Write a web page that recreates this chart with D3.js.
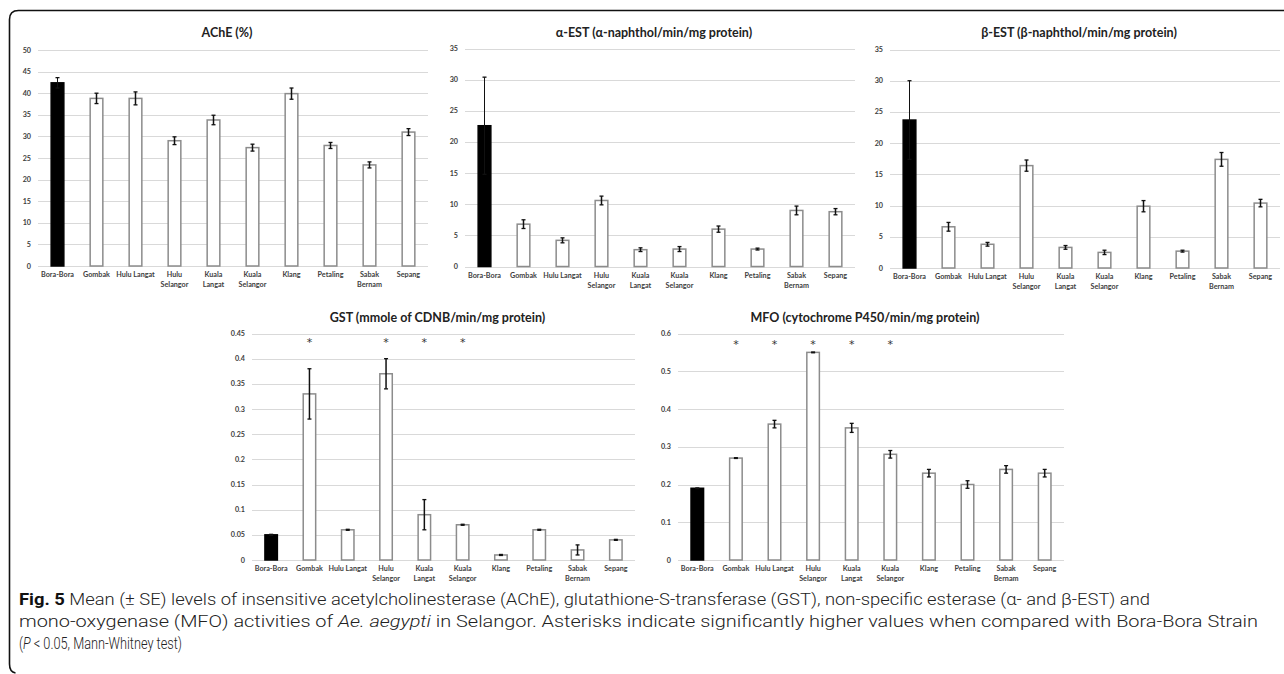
<!DOCTYPE html>
<html><head><meta charset="utf-8">
<script src="https://cdn.jsdelivr.net/npm/d3@7"></script>
<style>
html,body{margin:0;padding:0;background:#fff;}
svg{display:block;}
</style></head>
<body>
<svg id="chart" width="1284" height="674"></svg>
<script>
// ---------- DATA ----------
const categories = ["Bora-Bora","Gombak","Hulu Langat","Hulu Selangor","Kuala Langat","Kuala Selangor","Klang","Petaling","Sabak Bernam","Sepang"];
const categoryLabels = ["Bora-Bora","Gombak","Hulu Langat","Hulu\nSelangor","Kuala\nLangat","Kuala\nSelangor","Klang","Petaling","Sabak\nBernam","Sepang"];

const acheValues = [42.4, 38.8, 38.8, 29.0, 33.8, 27.4, 39.9, 27.9, 23.4, 31.0];
const acheErrors = [1.2, 1.2, 1.5, 0.9, 1.1, 0.8, 1.3, 0.7, 0.7, 0.8];
const acheTicks = [0,5,10,15,20,25,30,35,40,45,50];

const alphaValues = [22.6, 6.8, 4.2, 10.6, 2.7, 2.8, 6.0, 2.8, 9.0, 8.8];
const alphaErrors = [7.8, 0.7, 0.4, 0.7, 0.3, 0.4, 0.5, 0.15, 0.7, 0.5];
const alphaTicks = [0,5,10,15,20,25,30,35];

const betaValues = [23.7, 6.6, 3.8, 16.4, 3.3, 2.5, 9.9, 2.7, 17.4, 10.4];
const betaErrors = [6.3, 0.7, 0.3, 0.9, 0.3, 0.35, 0.9, 0.15, 1.1, 0.6];
const betaTicks = [0,5,10,15,20,25,30,35];

const gstValues = [0.05, 0.33, 0.06, 0.37, 0.09, 0.07, 0.01, 0.06, 0.02, 0.04];
const gstErrors = [0.001, 0.05, 0.001, 0.03, 0.03, 0.001, 0.001, 0.001, 0.01, 0.001];
const gstTicks = [0,0.05,0.1,0.15,0.2,0.25,0.3,0.35,0.4,0.45];
const gstTickLabels = ["0","0.05","0.1","0.15","0.2","0.25","0.3","0.35","0.4","0.45"];
const gstSignificant = ["Gombak","Hulu Selangor","Kuala Langat","Kuala Selangor"];

const mfoValues = [0.19, 0.27, 0.36, 0.55, 0.35, 0.28, 0.23, 0.20, 0.24, 0.23];
const mfoErrors = [0.001, 0.001, 0.01, 0.001, 0.012, 0.01, 0.01, 0.01, 0.01, 0.01];
const mfoTicks = [0,0.1,0.2,0.3,0.4,0.5,0.6];
const mfoTickLabels = ["0","0.1","0.2","0.3","0.4","0.5","0.6"];
const mfoSignificant = ["Gombak","Hulu Langat","Hulu Selangor","Kuala Langat","Kuala Selangor"];

const titles = [
  "AChE (%)",
  "α-EST (α-naphthol/min/mg protein)",
  "β-EST (β-naphthol/min/mg protein)",
  "GST (mmole of CDNB/min/mg protein)",
  "MFO (cytochrome P450/min/mg protein)"
];

// ---------- LAYOUT ----------
const panels = [
  {title:titles[0], values:acheValues, errors:acheErrors, ticks:acheTicks, tickLabels:acheTicks.map(String), sig:[],
   x0:38, x1:428, yTop:50, yBot:266, max:50, titleY:33, starY:0},
  {title:titles[1], values:alphaValues, errors:alphaErrors, ticks:alphaTicks, tickLabels:alphaTicks.map(String), sig:[],
   x0:465, x1:855, yTop:48.5, yBot:266.5, max:35, titleY:33, starY:0},
  {title:titles[2], values:betaValues, errors:betaErrors, ticks:betaTicks, tickLabels:betaTicks.map(String), sig:[],
   x0:890, x1:1280, yTop:49.5, yBot:268, max:35, titleY:33, starY:0},
  {title:titles[3], values:gstValues, errors:gstErrors, ticks:gstTicks, tickLabels:gstTickLabels, sig:gstSignificant,
   x0:252, x1:635, yTop:333.5, yBot:560, max:0.45, titleY:318, starY:346},
  {title:titles[4], values:mfoValues, errors:mfoErrors, ticks:mfoTicks, tickLabels:mfoTickLabels, sig:mfoSignificant,
   x0:678, x1:1064, yTop:333.5, yBot:560, max:0.6, titleY:318, starY:348}
];

const svg = d3.select("#chart");
const FONT = "Lato, 'Open Sans', sans-serif";

// frame
const r = 9;
svg.append("path")
  .attr("d", `M1284,10.5 L${9.5+r},10.5 Q9.5,10.5 9.5,${10.5+r} L9.5,${664} Q9.5,672 ${9.5+6},673`)
  .attr("fill","none").attr("stroke","#111").attr("stroke-width",1.6);

panels.forEach(p => {
  const g = svg.append("g");
  const x = d3.scaleBand().domain(categories).range([p.x0, p.x1]).paddingInner(0.675).paddingOuter(0.3375);
  const y = d3.scaleLinear().domain([0, p.max]).range([p.yBot, p.yTop]);

  // gridlines
  g.selectAll("line.grid").data(p.ticks).join("line")
    .attr("x1", p.x0).attr("x2", p.x1)
    .attr("y1", d => Math.round(y(d))+0.5).attr("y2", d => Math.round(y(d))+0.5)
    .attr("stroke", "#d9d9d9").attr("stroke-width", 1);

  // y tick labels
  g.selectAll("text.ytick").data(p.ticks).join("text")
    .attr("x", p.x0 - 7).attr("y", d => y(d)).attr("dy","0.35em")
    .attr("text-anchor","end")
    .attr("font-family", FONT).attr("font-size", 7.2).attr("font-weight", 700).attr("fill","#404040")
    .text((d,i) => p.tickLabels[i]);

  // title
  g.append("text")
    .attr("x", (p.x0 + p.x1)/2 - 6).attr("y", p.titleY).attr("dy","0.35em")
    .attr("text-anchor","middle")
    .attr("font-family", FONT).attr("font-size", 12.5).attr("font-weight", 700).attr("fill","#222")
    .text(p.title);

  // bars
  const bw = x.bandwidth();
  g.selectAll("rect.bar").data(categories).join("rect")
    .attr("x", d => x(d)).attr("width", bw)
    .attr("y", (d,i) => y(p.values[i])).attr("height", (d,i) => y(0) - y(p.values[i]))
    .attr("fill", (d,i) => i === 0 ? "#000" : "#fff")
    .attr("stroke", (d,i) => i === 0 ? "#000" : "#8c8c8c")
    .attr("stroke-width", 1.5);

  // error bars
  const eb = g.selectAll("g.err").data(categories).join("g");
  eb.append("line")
    .attr("x1", d => x(d) + bw/2).attr("x2", d => x(d) + bw/2)
    .attr("y1", (d,i) => y(p.values[i] + p.errors[i])).attr("y2", (d,i) => y(p.values[i] - p.errors[i]))
    .attr("stroke", "#111").attr("stroke-width", (d,i) => i === 0 ? 1 : 1.5);
  [1,-1].forEach(s => {
    eb.append("line")
      .attr("x1", d => x(d) + bw/2 - 2).attr("x2", d => x(d) + bw/2 + 2)
      .attr("y1", (d,i) => y(p.values[i] + s*p.errors[i])).attr("y2", (d,i) => y(p.values[i] + s*p.errors[i]))
      .attr("stroke", "#111").attr("stroke-width", 1.3);
  });

  // category labels
  const lab = g.selectAll("text.xcat").data(categories).join("text")
    .attr("text-anchor","middle")
    .attr("font-family", FONT).attr("font-size", 7.2).attr("font-weight", 700).attr("fill","#404040");
  lab.each(function(d,i){
    const lines = categoryLabels[i].split("\n");
    lines.forEach((ln,k) => {
      d3.select(this).append("tspan")
        .attr("x", x(d) + bw/2).attr("y", p.yBot + 11 + k*10)
        .text(ln);
    });
  });

  // significance asterisks
  g.selectAll("text.star").data(p.sig).join("text")
    .attr("x", d => x(d) + bw/2).attr("y", p.starY)
    .attr("text-anchor","middle")
    .attr("font-family", "'DejaVu Sans', sans-serif").attr("font-size", 11).attr("fill","#333")
    .text("*");
});

// ---------- CAPTION ----------
const cap = svg.append("g").attr("font-family","Roboto, 'Open Sans', sans-serif").attr("font-weight",300).attr("font-size",16).attr("fill","#222");
const l1 = cap.append("text").attr("x",19).attr("y",605).attr("textLength",1131).attr("lengthAdjust","spacingAndGlyphs");
l1.append("tspan").attr("font-weight",700).attr("fill","#111").text("Fig. 5");
l1.append("tspan").text("  Mean (± SE) levels of insensitive acetylcholinesterase (AChE), glutathione-S-transferase (GST), non-specific esterase (α- and β-EST) and");
const l2 = cap.append("text").attr("x",19).attr("y",627).attr("textLength",1239).attr("lengthAdjust","spacingAndGlyphs");
l2.append("tspan").text("mono-oxygenase (MFO) activities of ");
l2.append("tspan").attr("font-style","italic").text("Ae. aegypti");
l2.append("tspan").text(" in Selangor. Asterisks indicate significantly higher values when compared with Bora-Bora Strain");
const l3 = cap.append("text").attr("x",19).attr("y",649).attr("textLength",163).attr("lengthAdjust","spacingAndGlyphs");
l3.append("tspan").text("(");
l3.append("tspan").attr("font-style","italic").text("P");
l3.append("tspan").text(" < 0.05, Mann-Whitney test)");
</script>
</body></html>
